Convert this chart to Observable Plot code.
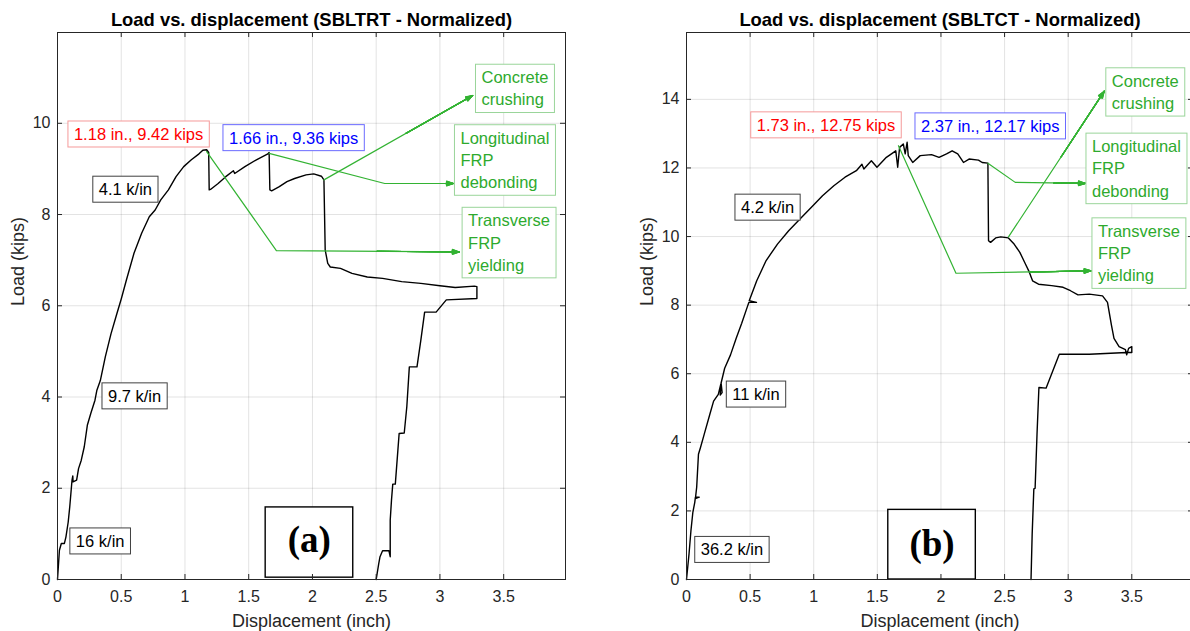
<!DOCTYPE html>
<html><head><meta charset="utf-8">
<script src="https://cdn.jsdelivr.net/npm/d3@7"></script>
<script src="https://cdn.jsdelivr.net/npm/@observablehq/plot@0.6"></script>
<style>
html,body{margin:0;padding:0;background:#fff;overflow:hidden;width:1190px;height:631px}
#wrap{position:relative;width:1190px;height:631px;overflow:hidden}
#pa{position:absolute;left:0;top:0;width:600px;height:631px}
#pb{position:absolute;left:600px;top:0;width:600px;height:631px}
#pa svg,#pb svg{max-width:none !important;width:600px;height:631px;display:block}
</style></head><body><div id="wrap"><div id="pa"></div><div id="pb"></div></div>
<script>
const FONT = '"Liberation Sans", Arial, Helvetica, sans-serif';

// ---- axes ----
const xTicks = [0, 0.5, 1, 1.5, 2, 2.5, 3, 3.5];
const yTicksA = [0, 2, 4, 6, 8, 10];
const yTicksB = [0, 2, 4, 6, 8, 10, 12, 14];
const titleA = "Load vs. displacement (SBLTRT - Normalized)";
const titleB = "Load vs. displacement (SBLTCT - Normalized)";
const xLabel = "Displacement (inch)";
const yLabel = "Load (kips)";

// ---- panel (a) curve ----
const dispA = [0,0.015,0.03,0.054,0.066,0.084,0.096,0.114,0.12,0.122,0.15,0.165,0.186,0.21,0.234,0.261,0.294,0.309,0.336,0.375,0.42,0.465,0.50,0.54,0.60,0.66,0.72,0.766,0.81,0.87,0.93,0.99,1.05,1.11,1.14,1.17,1.186,1.19,1.20,1.26,1.32,1.38,1.39,1.47,1.56,1.65,1.66,1.666,1.68,1.74,1.80,1.86,1.95,2.01,2.07,2.09,2.10,2.12,2.14,2.22,2.31,2.43,2.55,2.70,2.85,3.0,3.12,3.27,3.29,3.29,3.05,2.97,2.88,2.85,2.82,2.76,2.74,2.72,2.68,2.67,2.65,2.63,2.62,2.61,2.61,2.60,2.55,2.53,2.52,2.50];
const loadA = [0,0.64,0.79,0.79,0.93,1.26,1.59,2.18,2.27,2.14,2.18,2.43,2.61,2.91,3.38,3.64,3.93,4.15,4.36,4.88,5.39,5.82,6.15,6.56,7.15,7.59,7.95,8.10,8.32,8.54,8.83,9.05,9.20,9.33,9.41,9.42,9.36,8.54,8.55,8.68,8.83,8.96,8.90,9.05,9.20,9.33,9.36,8.54,8.52,8.61,8.72,8.79,8.87,8.89,8.84,8.76,7.22,6.93,6.85,6.82,6.71,6.63,6.60,6.53,6.49,6.44,6.40,6.43,6.42,6.16,6.13,5.86,5.86,5.24,4.66,4.66,3.78,3.21,3.20,2.83,2.09,2.09,1.74,1.30,0.50,0.63,0.63,0.50,0.35,0];

// ---- panel (b) curve ----
const dispB = [0,0.02,0.035,0.05,0.065,0.07,0.10,0.07,0.08,0.094,0.11,0.139,0.183,0.213,0.25,0.27,0.265,0.28,0.272,0.30,0.346,0.39,0.434,0.478,0.49,0.55,0.493,0.552,0.626,0.715,0.803,0.892,0.98,1.069,1.158,1.246,1.335,1.379,1.394,1.453,1.497,1.571,1.645,1.66,1.675,1.704,1.719,1.734,1.743,1.778,1.837,1.926,1.985,2.044,2.088,2.132,2.177,2.221,2.295,2.324,2.369,2.374,2.39,2.43,2.47,2.53,2.575,2.62,2.664,2.69,2.72,2.767,2.87,2.96,3.018,3.077,3.166,3.27,3.309,3.34,3.36,3.40,3.45,3.46,3.475,3.50,3.50,3.46,3.166,2.93,2.826,2.77,2.755,2.74,2.73,2.717,2.708];
const loadB = [0,0.75,1.43,1.96,2.25,2.40,2.40,2.36,2.69,3.65,3.85,4.23,4.81,5.20,5.40,5.70,5.38,5.45,5.73,6.16,6.55,7.03,7.47,7.95,8.08,8.08,8.13,8.71,9.30,9.78,10.17,10.51,10.85,11.19,11.48,11.73,11.92,12.11,11.97,12.21,12.02,12.31,12.50,12.02,12.60,12.70,12.41,12.75,12.36,12.16,12.36,12.39,12.31,12.41,12.50,12.41,12.16,12.26,12.23,12.16,12.14,9.88,9.83,9.96,9.99,9.96,9.78,9.54,9.20,9.00,8.71,8.61,8.57,8.52,8.42,8.30,8.32,8.27,8.08,7.42,7.03,6.79,6.70,6.55,6.74,6.79,6.62,6.62,6.57,6.57,5.58,5.60,4.23,2.66,2.64,1.33,0];

// ---- annotations (a) ----
const noteTextA = ["1.18 in., 9.42 kips","1.66 in., 9.36 kips","4.1 k/in","9.7 k/in","16 k/in","Concrete\ncrushing","Longitudinal\nFRP\ndebonding","Transverse\nFRP\nyielding"];
const noteXA = [0.129,1.345,0.324,0.396,0.144,3.326,3.161,3.221];
const noteYA = [9.79,9.71,8.58,4.05,0.87,10.79,9.22,7.41];
const noteKindA = ["red","blue","black","black","black","green","green","green"];
const arrowXA = [[2.09,3.257],[1.66,2.567,3.107],[1.17,1.717,3.152]];
const arrowYA = [[8.76,10.61],[9.34,8.68,8.68],[9.38,7.21,7.18]];
const tagA = "(a)";
const tagBoxXA = [1.633, 2.32];
const tagBoxYA = [0.04, 1.58];
const tagPosA = [1.975, 0.86];

// ---- annotations (b) ----
const noteTextB = ["1.73 in., 12.75 kips","2.37 in., 12.17 kips","4.2 k/in","11 k/in","36.2 k/in","Concrete\ncrushing","Longitudinal\nFRP\ndebonding","Transverse\nFRP\nyielding"];
const noteXB = [0.552,1.843,0.428,0.36,0.112,3.343,3.187,3.234];
const noteYB = [13.29,13.26,10.89,5.44,0.91,14.25,12.02,9.55];
const noteKindB = ["red","blue","black","black","black","green","green","green"];
const arrowXB = [[2.531,3.284],[2.369,2.584,3.136],[1.666,2.118,3.18]];
const arrowYB = [[9.99,14.24],[12.14,11.58,11.55],[12.65,8.93,9.00]];
const tagB = "(b)";
const tagBoxXB = [1.586, 2.274];
const tagBoxYB = [0, 2.03];
const tagPosB = [1.93, 1.02];

const textColor = {red: "#ff0000", blue: "#0000ff", black: "#000000", green: "#2eaa2e"};
const boxColor = {red: "#f59a9a", blue: "#6b6bff", black: "#404040", green: "#9ad59a"};
const GREEN = "#33b333";
const AXC = "#262626";

function panel(o) {
  const W = 600, H = 631, mt = 32, mb = 52;
  const pw = W - o.ml - o.mr, ph = H - mt - mb;
  const curve = o.disp.map((d, i) => ({x: d, y: o.load[i]}));
  const notes = o.noteText.map((t, i) => ({t, x: o.noteX[i], y: o.noteY[i], k: o.noteKind[i]}));
  const lines = [], heads = [];
  o.arrowX.forEach((xs, j) => {
    xs.forEach((x, i) => lines.push({id: j, x, y: o.arrowY[j][i]}));
    const n = xs.length;
    const ax = xs[n - 2], ay = o.arrowY[j][n - 2], bx = xs[n - 1], by = o.arrowY[j][n - 1];
    // head drawn on the end part of the last segment
    heads.push({x1: bx - (bx - ax) * 0.45, y1: by - (by - ay) * 0.45, x2: bx, y2: by});
  });
  const tagBox = [{x1: o.tagBoxX[0], x2: o.tagBoxX[1], y1: o.tagBoxY[0], y2: o.tagBoxY[1]}];
  const kinds = ["red", "blue", "black", "green"];
  const marks = [
    Plot.ruleX(o.xTicks.slice(1), {stroke: AXC, strokeOpacity: 0.13}),
    Plot.ruleY(o.yTicks.slice(1), {stroke: AXC, strokeOpacity: 0.13}),
    Plot.line(curve, {x: "x", y: "y", stroke: "black", strokeWidth: 1.4}),
    Plot.line(lines, {x: "x", y: "y", z: "id", stroke: GREEN, strokeWidth: 1.2}),
    ...[6, 12, 18, 24, 30, 36, 40].map(a => Plot.arrow(heads, {x1: "x1", y1: "y1", x2: "x2", y2: "y2", stroke: GREEN, strokeWidth: 1.1, headLength: 10, headAngle: a})),
    ...kinds.map(k => Plot.text(notes.filter(d => d.k === k), {
      x: "x", y: "y", text: "t", fill: textColor[k], textAnchor: "start", lineAnchor: "middle",
      fontSize: 16.5, lineHeight: 1.35
    })),
    Plot.rect(tagBox, {x1: "x1", x2: "x2", y1: "y1", y2: "y2", fill: "white", stroke: "black", strokeWidth: 1.4}),
    Plot.text([o.tag], {x: () => o.tagPos[0], y: () => o.tagPos[1], fontFamily: '"Liberation Serif", "Times New Roman", serif', fontWeight: "bold", fontSize: 37, fill: "black"}),
    Plot.frame({stroke: AXC, strokeWidth: 1}),
    Plot.ruleX(o.xTicks, {insetTop: ph - 5, stroke: AXC}),
    Plot.ruleX(o.xTicks, {insetBottom: ph - 5, stroke: AXC}),
    Plot.ruleY(o.yTicks, {insetRight: pw - 5, stroke: AXC}),
    Plot.ruleY(o.yTicks, {insetLeft: pw - 5, stroke: AXC}),
    Plot.axisX(o.xTicks, {tickSize: 0, tickPadding: 11, tickFormat: d => String(d), fill: AXC, fontSize: 16, label: null}),
    Plot.axisY(o.yTicks, {tickSize: 0, tickPadding: 7, tickFormat: d => String(d), fill: AXC, fontSize: 16, label: null}),
    Plot.text([o.title], {frameAnchor: "top", dy: -20, fontWeight: "bold", fontSize: 18.4, fill: "black"}),
    Plot.text([xLabel], {frameAnchor: "bottom", dy: 47, fontSize: 18, fill: AXC}),
    Plot.text([yLabel], {frameAnchor: "left", dx: -39, rotate: -90, fontSize: 18, fill: AXC})
  ];
  return Plot.plot({
    width: W, height: H, marginTop: mt, marginBottom: mb, marginLeft: o.ml, marginRight: o.mr,
    style: {fontFamily: FONT, fontSize: "16px", background: "white", overflow: "visible", maxWidth: "none"},
    x: {domain: [0, 3.985], label: null},
    y: {domain: o.yDomain, label: null},
    marks
  });
}

function addBoxes(svg, texts, kindsArr) {
  const kindOf = new Map(texts.map((t, i) => [t.replace(/\n/g, ""), kindsArr[i]]));
  svg.querySelectorAll("text").forEach(t => {
    const k = kindOf.get(t.textContent.replace(/\n/g, ""));
    if (!k) return;
    const b = t.getBBox();
    const r = document.createElementNS("http://www.w3.org/2000/svg", "rect");
    r.setAttribute("x", b.x - 6);
    r.setAttribute("y", b.y - 4);
    r.setAttribute("width", b.width + 12);
    r.setAttribute("height", b.height + 8);
    const tr = t.getAttribute("transform");
    if (tr) r.setAttribute("transform", tr);
    r.setAttribute("fill", "white");
    r.setAttribute("stroke", boxColor[k]);
    r.setAttribute("stroke-width", 1);
    t.parentNode.insertBefore(r, t);
  });
}

const svgA = panel({
  ml: 57, mr: 35, xTicks, yTicks: yTicksA, yDomain: [0, 11.99], title: titleA,
  disp: dispA, load: loadA, noteText: noteTextA, noteX: noteXA, noteY: noteYA, noteKind: noteKindA,
  arrowX: arrowXA, arrowY: arrowYA, tag: tagA, tagBoxX: tagBoxXA, tagBoxY: tagBoxYA, tagPos: tagPosA
});
const svgB = panel({
  ml: 86, mr: 7, xTicks, yTicks: yTicksB, yDomain: [0, 15.95], title: titleB,
  disp: dispB, load: loadB, noteText: noteTextB, noteX: noteXB, noteY: noteYB, noteKind: noteKindB,
  arrowX: arrowXB, arrowY: arrowYB, tag: tagB, tagBoxX: tagBoxXB, tagBoxY: tagBoxYB, tagPos: tagPosB
});
document.getElementById("pa").appendChild(svgA);
document.getElementById("pb").appendChild(svgB);
addBoxes(svgA, noteTextA, noteKindA);
addBoxes(svgB, noteTextB, noteKindB);
</script>
</body></html>
